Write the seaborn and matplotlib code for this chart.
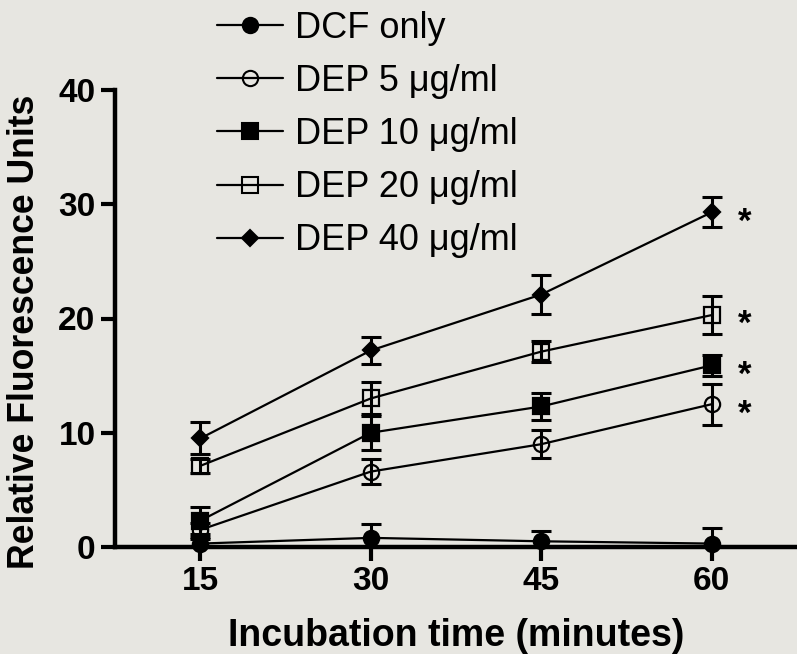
import matplotlib
matplotlib.use("Agg")
import matplotlib.pyplot as plt
import seaborn as sns
import pandas as pd
import numpy as np

# ---- data ----
times = [15, 30, 45, 60]
series_names = ["DCF only", "DEP 5 \u03bcg/ml", "DEP 10 \u03bcg/ml", "DEP 20 \u03bcg/ml", "DEP 40 \u03bcg/ml"]
dcf_only = [0.3, 0.8, 0.5, 0.3]
dep5 = [1.5, 6.6, 9.0, 12.5]
dep10 = [2.3, 10.0, 12.3, 15.9]
dep20 = [7.1, 13.0, 17.1, 20.3]
dep40 = [9.5, 17.2, 22.1, 29.3]
dcf_err = [0.4, 1.2, 0.9, 1.4]
dep5_err = [0.6, 1.1, 1.2, 1.8]
dep10_err = [1.2, 1.5, 1.2, 0.9]
dep20_err = [0.6, 1.4, 0.9, 1.7]
dep40_err = [1.4, 1.2, 1.7, 1.3]
yticks = [0, 10, 20, 30, 40]
xlabel = "Incubation time (minutes)"
ylabel = "Relative Fluorescence Units"
star_series = [1, 2, 3, 4]

values = [dcf_only, dep5, dep10, dep20, dep40]
errors = [dcf_err, dep5_err, dep10_err, dep20_err, dep40_err]

rows = []
for name, vals, errs in zip(series_names, values, errors):
    for t, v, e in zip(times, vals, errs):
        rows.append({"time": t, "value": v, "err": e, "series": name})
df = pd.DataFrame(rows)

bg = "#E7E6E1"
sns.set_theme(style="white")
plt.rcParams["font.family"] = ["Liberation Sans", "DejaVu Sans"]
plt.rcParams["text.color"] = "black"
plt.rcParams["axes.labelcolor"] = "black"
plt.rcParams["xtick.color"] = "black"
plt.rcParams["ytick.color"] = "black"

fig = plt.figure(figsize=(7.97, 6.54), dpi=100, facecolor=bg)
ax = fig.add_axes([115 / 797, 107 / 654, 1 - 115 / 797, (547 - 90) / 654])
ax.set_facecolor(bg)

marker_styles = {
    series_names[0]: dict(marker="o", mfc="black", ms=11),
    series_names[1]: dict(marker="o", mfc="none", ms=11),
    series_names[2]: dict(marker="s", mfc="black", ms=11),
    series_names[3]: dict(marker="s", mfc="none", ms=11),
    series_names[4]: dict(marker="D", mfc="black", ms=8.5),
}

handles = []
for name in series_names:
    sub = df[df["series"] == name]
    st = marker_styles[name]
    ax.errorbar(sub["time"], sub["value"], yerr=sub["err"], fmt="none",
                ecolor="black", elinewidth=2.2, capsize=7.5, capthick=2.2, zorder=2)
    sns.lineplot(data=sub, x="time", y="value", ax=ax, color="black", lw=1.6,
                 marker=st["marker"], markersize=st["ms"], markerfacecolor=st["mfc"],
                 markeredgecolor="black", markeredgewidth=1.6, errorbar=None,
                 legend=False, zorder=3)
    ln = ax.lines[-1]
    ln.set_clip_on(False)
    h, = ax.plot([], [], color="black", lw=1.6, marker=st["marker"],
                 markersize=st["ms"], markerfacecolor=st["mfc"],
                 markeredgecolor="black", markeredgewidth=1.5)
    handles.append(h)

# significance stars
for i in star_series:
    ax.annotate("*", xy=(62.9, values[i][-1]), xytext=(0, -7), textcoords="offset points",
                fontsize=25, fontweight="bold", ha="center", va="center", color="black")

ax.set_xlim(7.5, 67.5)
ax.set_ylim(0, 40)
ax.set_xticks(times)
ax.set_yticks(yticks)
ax.set_xticklabels([str(t) for t in times], fontsize=24, fontweight="bold")
ax.set_yticklabels([str(t) for t in yticks], fontsize=24, fontweight="bold")
ax.tick_params(axis="both", which="both", direction="out", length=10, width=3,
               color="black", labelcolor="black", pad=4, bottom=True, left=True)
ax.set_xlabel(xlabel, fontsize=27, fontweight="bold", labelpad=15)
ax.set_ylabel(ylabel, fontsize=25.7, fontweight="bold")
ax.yaxis.set_label_coords(-0.107, 0.47)
sns.despine(ax=ax, top=True, right=True)
for sp in ["left", "bottom"]:
    ax.spines[sp].set_linewidth(3.2)
    ax.spines[sp].set_color("black")
    ax.spines[sp].set_zorder(5)

leg = fig.legend(handles, series_names, loc="upper left",
                 bbox_to_anchor=(217 / 797, 1.0 - 11 / 654), frameon=False,
                 fontsize=26, handlelength=1.83, handletextpad=0.33,
                 labelspacing=0.5, borderaxespad=0.0, borderpad=0.0)
for t in leg.get_texts():
    t.set_color("black")

fig.savefig("out.png", dpi=100, facecolor=bg)
